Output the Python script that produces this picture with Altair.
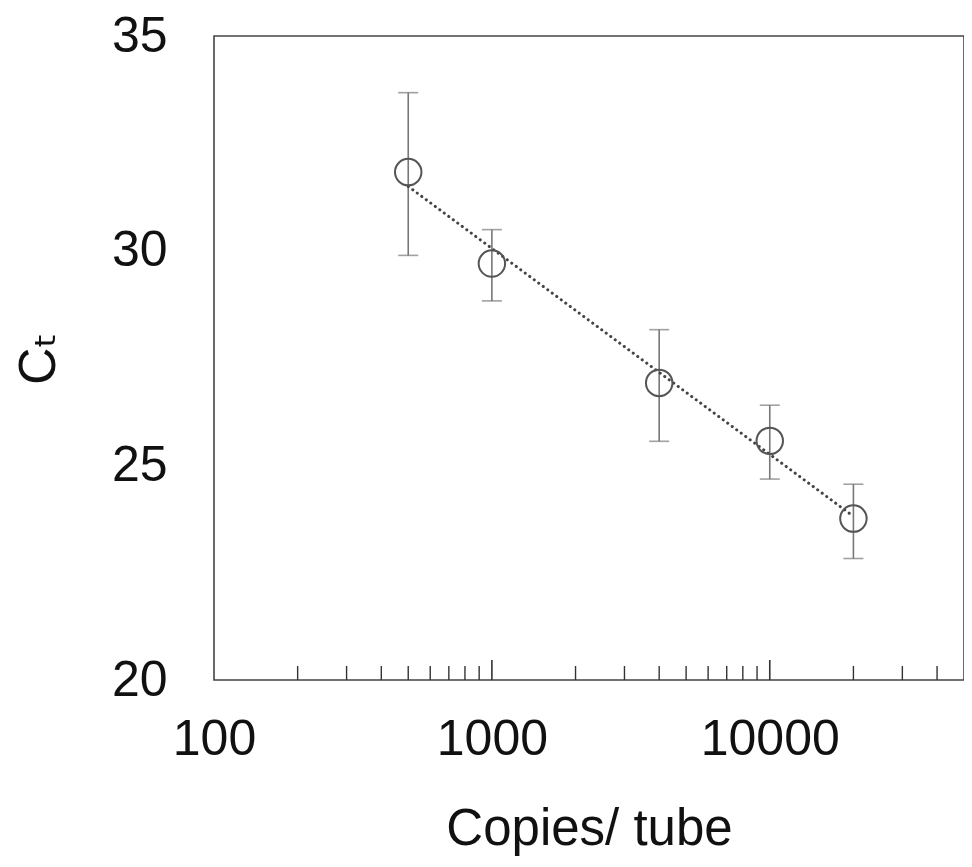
import altair as alt
import pandas as pd

copies = [500, 1000, 4000, 10000, 20000]
ct_mean = [31.83, 29.70, 26.92, 25.57, 23.76]
ct_low = [29.89, 28.83, 25.56, 24.68, 22.83]
ct_high = [33.68, 30.49, 28.16, 26.40, 24.56]

minor_ticks = [200, 300, 400, 500, 600, 700, 800, 900,
               2000, 3000, 4000, 5000, 6000, 7000, 8000, 9000,
               20000, 30000, 40000]
major_ticks = [1000, 10000]

x_labels = [100, 1000, 10000]
y_labels = [20, 25, 30, 35]

W, H = 750, 644
FONT = "Liberation Sans, Arial, DejaVu Sans"

df = pd.DataFrame({"copies": copies, "ct": ct_mean, "low": ct_low, "high": ct_high})
minor_df = pd.DataFrame({"t": minor_ticks})
major_df = pd.DataFrame({"t": major_ticks})

xscale = alt.Scale(type="log", domain=[100, 50000], nice=False)
yscale = alt.Scale(domain=[20, 35], nice=False, zero=False)

xaxis = alt.Axis(values=x_labels, format="d", title="Copies/ tube", grid=False,
                 ticks=False, domain=False, labelFontSize=50, labelPadding=34,
                 titleFontSize=51, titlePadding=40, titleFontWeight="normal",
                 labelColor="#111", titleColor="#111", labelFont=FONT, titleFont=FONT,
                 labelFlush=False, labelOverlap=False)
yaxis = alt.Axis(values=y_labels, title="Cₜ", grid=False, ticks=False, domain=False,
                 labelFontSize=50, labelPadding=47, titleFontSize=52, titlePadding=46,
                 titleFontWeight="normal", labelColor="#111", titleColor="#111",
                 labelFont=FONT, titleFont=FONT, labelFlush=False, labelOverlap=False)

base = alt.Chart(df)

err = base.mark_rule(color="#777", strokeWidth=1.6).encode(
    x=alt.X("copies:Q", scale=xscale, axis=xaxis),
    y=alt.Y("low:Q", scale=yscale, axis=yaxis),
    y2="high:Q",
)
cap_low = base.mark_tick(color="#777", thickness=1.6, size=20, orient="horizontal").encode(
    x=alt.X("copies:Q", scale=xscale), y=alt.Y("low:Q", scale=yscale))
cap_high = base.mark_tick(color="#777", thickness=1.6, size=20, orient="horizontal").encode(
    x=alt.X("copies:Q", scale=xscale), y=alt.Y("high:Q", scale=yscale))

fit = base.transform_regression("copies", "ct", method="log").mark_line(
    color="#444", strokeWidth=3, strokeDash=[0.1, 5.5], strokeCap="round").encode(
    x=alt.X("copies:Q", scale=xscale), y=alt.Y("ct:Q", scale=yscale))

pts = base.mark_point(shape="circle", filled=False, size=700, stroke="#555",
                      strokeWidth=2, opacity=1).encode(
    x=alt.X("copies:Q", scale=xscale), y=alt.Y("ct:Q", scale=yscale))

minor = alt.Chart(minor_df).mark_rule(color="#333", strokeWidth=1.4).encode(
    x=alt.X("t:Q", scale=xscale), y=alt.value(H), y2=alt.value(H - 14))
major = alt.Chart(major_df).mark_rule(color="#333", strokeWidth=1.6).encode(
    x=alt.X("t:Q", scale=xscale), y=alt.value(H), y2=alt.value(H - 20))

chart = alt.layer(err, cap_low, cap_high, fit, pts, minor, major).properties(
    width=W, height=H,
    background="white",
    autosize=alt.AutoSizeParams(type="none"),
    padding={"left": 206, "top": 28, "right": 0, "bottom": 179},
).configure_view(stroke="#444", strokeWidth=1.6)

chart.save("out.html", embed_options={"renderer": "svg", "actions": False})
